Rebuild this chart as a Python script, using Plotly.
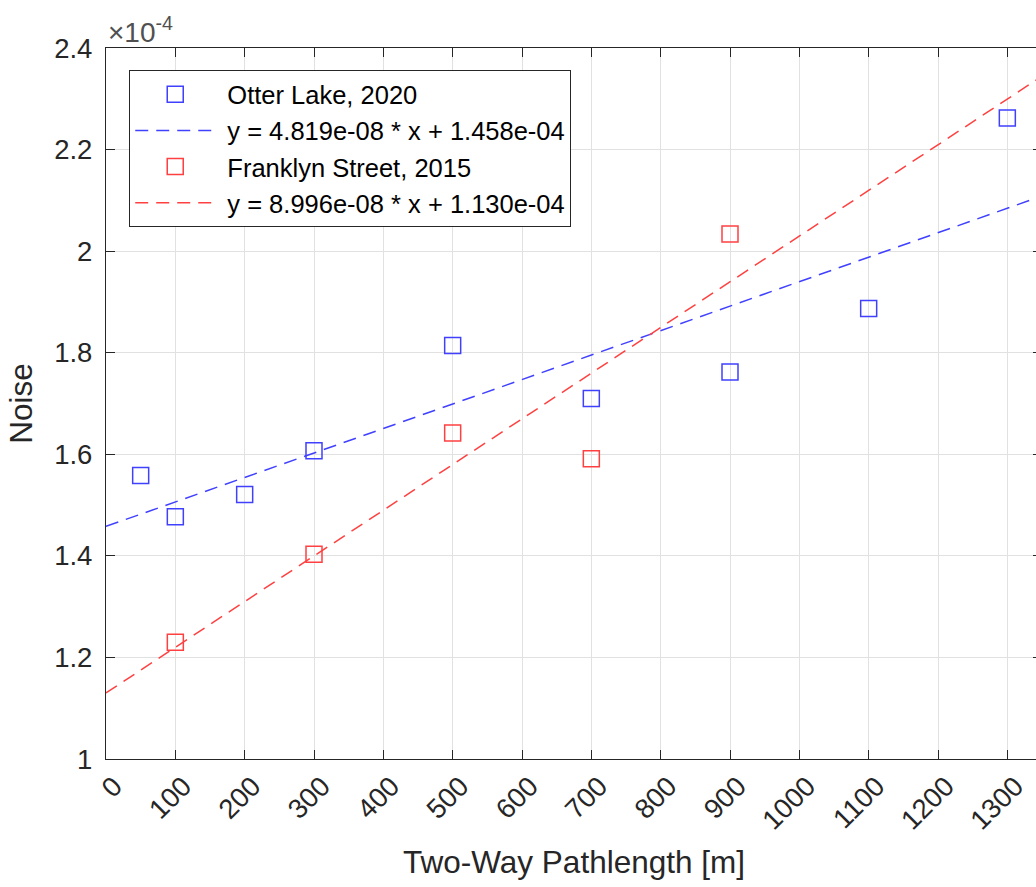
import plotly.graph_objects as go

# Two-way pathlength [m] and measured noise for each site
otter_x = [50, 100, 200, 300, 500, 700, 900, 1100, 1300]
otter_noise = [1.558e-4, 1.477e-4, 1.521e-4, 1.607e-4, 1.814e-4,
               1.710e-4, 1.762e-4, 1.887e-4, 2.262e-4]

franklyn_x = [100, 300, 500, 700, 900]
franklyn_noise = [1.230e-4, 1.403e-4, 1.642e-4, 1.591e-4, 2.034e-4]

# Linear fit coefficients (slope, intercept)
otter_fit = (4.819e-08, 1.458e-04)
franklyn_fit = (8.996e-08, 1.130e-04)

x_range = [0, 1350]
x_ticks = list(range(0, 1301, 100))
y_ticks = [1.0e-4, 1.2e-4, 1.4e-4, 1.6e-4, 1.8e-4, 2.0e-4, 2.2e-4, 2.4e-4]
y_tick_labels = ["1", "1.2", "1.4", "1.6", "1.8", "2", "2.2", "2.4"]

BLUE = "rgb(64,64,255)"
RED = "rgb(255,64,64)"
INK = "#262626"
FONT = "Liberation Sans, Arial, Helvetica, sans-serif"
DASH = "13px,8px"
PAD = "\u00a0"  # small gap between legend symbol and its text


def fit_line(coef):
    m, b = coef
    return [m * x + b for x in x_range]


def fit_label(coef):
    return f"y = {coef[0]:.3e} * x + {coef[1]:.3e}"


fig = go.Figure()
fig.add_trace(go.Scatter(
    x=otter_x, y=otter_noise, mode="markers", name=PAD + "Otter Lake, 2020",
    legendgroup="a",
    marker=dict(symbol="square-open", size=16, color=BLUE, line=dict(width=1.5, color=BLUE)),
))
fig.add_trace(go.Scatter(
    x=x_range, y=fit_line(otter_fit), mode="lines", name=PAD + fit_label(otter_fit),
    legendgroup="b",
    line=dict(color=BLUE, width=1.5, dash=DASH),
))
fig.add_trace(go.Scatter(
    x=franklyn_x, y=franklyn_noise, mode="markers", name=PAD + "Franklyn Street, 2015",
    legendgroup="c",
    marker=dict(symbol="square-open", size=16, color=RED, line=dict(width=1.5, color=RED)),
))
fig.add_trace(go.Scatter(
    x=x_range, y=fit_line(franklyn_fit), mode="lines", name=PAD + fit_label(franklyn_fit),
    legendgroup="d",
    line=dict(color=RED, width=1.5, dash=DASH),
))

axis_common = dict(
    showline=True, linecolor=INK, linewidth=1.2, mirror="ticks",
    ticks="inside", ticklen=9, tickwidth=1.2, tickcolor=INK,
    showgrid=True, gridcolor="#e1e1e1", gridwidth=1,
    zeroline=False,
    tickfont=dict(family=FONT, size=27.5, color=INK),
)

fig.update_xaxes(
    range=x_range, tickvals=x_ticks, tickangle=-45,
    title=dict(text="Two-Way Pathlength [m]", font=dict(family=FONT, size=31.5, color=INK), standoff=16),
    ticklabelstandoff=-1, ticklabelshift=8,
    **axis_common,
)
fig.update_yaxes(
    range=[1.0e-4, 2.4e-4], tickvals=y_ticks, ticktext=y_tick_labels,
    title=dict(text="Noise", font=dict(family=FONT, size=31.5, color=INK), standoff=12),
    ticklabelstandoff=7,
    **axis_common,
)

fig.add_annotation(
    x=0, y=1, xref="paper", yref="paper", xanchor="left", yanchor="bottom",
    text="×10<sup>-4</sup>", showarrow=False, xshift=0, yshift=-2,
    font=dict(family=FONT, size=28, color="#505050"),
)

fig.update_layout(
    width=1044, height=887,
    margin=dict(l=106, r=2, t=48, b=128),
    paper_bgcolor="white", plot_bgcolor="white",
    showlegend=True,
    legend=dict(
        x=0.0246, y=0.969, xanchor="left", yanchor="top",
        bgcolor="white", bordercolor=INK, borderwidth=1.2,
        font=dict(family=FONT, size=25.5, color="black"),
        tracegroupgap=0, itemwidth=80,
    ),
)

fig.write_html(
    "out.html",
    post_script="document.documentElement.style.overflow='hidden';"
                "document.body.style.overflow='hidden';document.body.style.margin='0';",
)
